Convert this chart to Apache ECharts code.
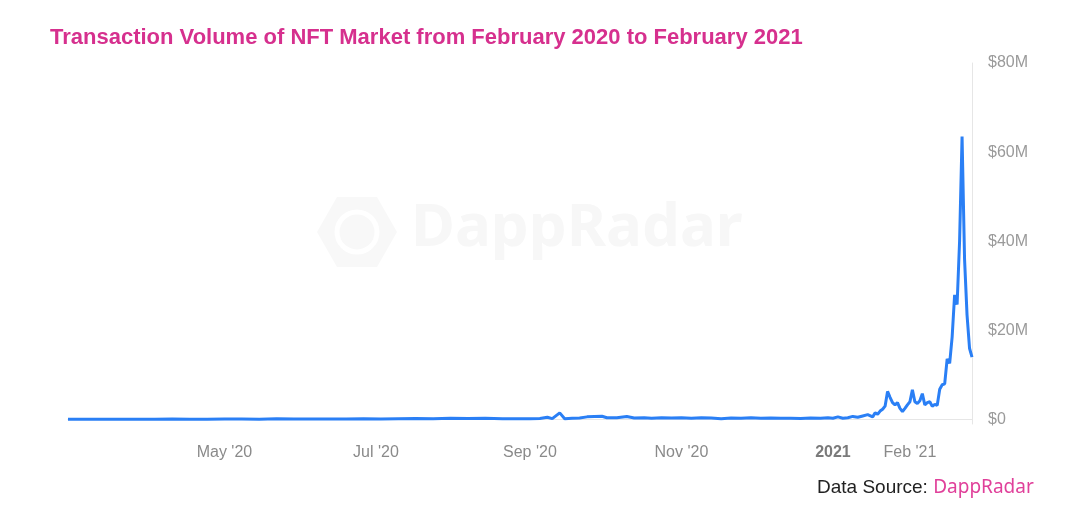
<!DOCTYPE html>
<html>
<head>
<meta charset="utf-8">
<script src="https://cdn.jsdelivr.net/npm/echarts@6/dist/echarts.min.js"></script>
<style>html,body{margin:0;padding:0;background:#fff;}#c{width:1080px;height:514px;}</style>
</head>
<body>
<div id="c"></div>
<script>
// Dates (YYYY-MM-DD) and daily transaction volume in $M
const dates = [
 '2020-02-28','2020-03-06','2020-03-13','2020-03-20','2020-03-27','2020-04-03','2020-04-10','2020-04-17','2020-04-24',
 '2020-05-01','2020-05-08','2020-05-15','2020-05-22','2020-05-29','2020-06-05','2020-06-12','2020-06-19','2020-06-26',
 '2020-07-03','2020-07-10','2020-07-17','2020-07-24','2020-07-31','2020-08-07','2020-08-14','2020-08-21','2020-08-27',
 '2020-09-01','2020-09-05','2020-09-08','2020-09-10','2020-09-13','2020-09-15','2020-09-18','2020-09-21','2020-09-24',
 '2020-09-27','2020-09-30','2020-10-02','2020-10-06','2020-10-10','2020-10-13','2020-10-17','2020-10-20','2020-10-24',
 '2020-10-28','2020-11-01','2020-11-05','2020-11-09','2020-11-13','2020-11-17','2020-11-21','2020-11-25','2020-11-29',
 '2020-12-03','2020-12-07','2020-12-11','2020-12-15','2020-12-19','2020-12-23','2020-12-27','2020-12-30',
 '2021-01-01','2021-01-03','2021-01-05','2021-01-07','2021-01-09','2021-01-11','2021-01-13','2021-01-15','2021-01-17',
 '2021-01-18','2021-01-19','2021-01-20','2021-01-21','2021-01-22','2021-01-23','2021-01-24','2021-01-25','2021-01-26',
 '2021-01-27','2021-01-28','2021-01-29','2021-01-30','2021-01-31','2021-02-01','2021-02-02','2021-02-03','2021-02-04',
 '2021-02-05','2021-02-06','2021-02-07','2021-02-08','2021-02-09','2021-02-10','2021-02-11','2021-02-12','2021-02-13',
 '2021-02-14','2021-02-15','2021-02-16','2021-02-17','2021-02-18','2021-02-19','2021-02-20','2021-02-21','2021-02-22',
 '2021-02-23','2021-02-24','2021-02-25','2021-02-26'
];
const volumes = [
 0.05,0.05,0.06,0.08,0.05,0.08,0.1,0.06,0.08,
 0.12,0.1,0.08,0.15,0.12,0.1,0.12,0.1,0.15,
 0.12,0.2,0.25,0.2,0.3,0.22,0.28,0.2,0.15,
 0.2,0.25,0.5,0.2,1.5,0.2,0.3,0.35,0.6,
 0.7,0.75,0.4,0.4,0.7,0.35,0.4,0.3,0.4,
 0.35,0.4,0.3,0.4,0.35,0.2,0.35,0.3,0.4,
 0.3,0.35,0.3,0.3,0.25,0.35,0.3,0.4,
 0.3,0.6,0.3,0.4,0.7,0.5,0.8,1.1,0.6,
 1.5,1.2,1.9,2.3,3.0,6.3,5.0,3.8,3.3,
 3.8,2.5,1.8,2.5,3.3,4.0,6.7,4.0,3.6,
 4.2,5.8,3.3,3.8,4.0,3.0,3.4,3.2,6.8,
 7.8,8.0,13.6,12.6,18.5,28,25.8,40,63.5,
 36,23.5,16,14
];
const xTickDates = ['2020-05-01','2020-07-01','2020-09-01','2020-11-01','2021-01-01','2021-02-01'];
const xTickLabels = ["May '20","Jul '20","Sep '20","Nov '20","2021","Feb '21"];
const yTickValues = [0,20,40,60,80];

function ts(s){const p=s.split('-');return Date.UTC(+p[0],+p[1]-1,+p[2]);}
const seriesData = dates.map((d,i)=>[ts(d),volumes[i]]);
const xTicks = xTickDates.map(ts);

const chart = echarts.init(document.getElementById('c'));
chart.setOption({
  animation:false,
  title:{text:'Transaction Volume of NFT Market from February 2020 to February 2021',left:45,top:22,
    textStyle:{color:'#d6308e',fontSize:22,fontWeight:'bold',fontFamily:'Liberation Sans'}},
  grid:{left:68,right:108,top:63,bottom:90},
  graphic:[
    {type:'polygon',z:-10,silent:true,shape:{points:[[337,197],[377,197],[397,232],[377,267],[337,267],[317,232]]},style:{fill:'#f8f8f8'}},
    {type:'circle',z:-9,silent:true,shape:{cx:357,cy:232,r:20},style:{fill:'none',stroke:'#ffffff',lineWidth:5}},
    {type:'text',z:-10,silent:true,left:411,top:199,style:{text:'DappRadar',fontSize:60,fontWeight:'bold',fill:'#f7f7f7',fontFamily:'Noto Sans'}},
    {type:'text',left:817,top:478,style:{rich:{a:{fontSize:19,fill:'#222',fontFamily:'Liberation Sans'},b:{fontSize:19,fill:'#e0409a',fontFamily:'Noto Sans'}},text:'{a|Data Source: }{b|DappRadar}'}}
  ],
  xAxis:{type:'value',min:ts('2020-02-28'),max:ts('2021-02-26'),
    axisLine:{show:true,lineStyle:{color:'#e6e6e6',width:1}},
    axisTick:{show:false},splitLine:{show:false},
    axisLabel:{customValues:xTicks,margin:21,color:'#8a8a8a',fontSize:16,fontFamily:'Liberation Sans',
      formatter:function(v){const i=xTicks.indexOf(v);const t=i>=0?xTickLabels[i]:'';return t==='2021'?'{b|'+t+'}':t;},
      rich:{b:{fontWeight:'bold',color:'#7a7a7a',fontSize:16,fontFamily:'Liberation Sans'}}}
  },
  yAxis:{type:'value',position:'right',min:-1,max:80,
    axisLine:{show:true,lineStyle:{color:'#e6e6e6',width:1}},
    axisTick:{show:false},splitLine:{show:false},
    axisLabel:{customValues:yTickValues,margin:16,color:'#9a9a9a',fontSize:16,fontFamily:'Liberation Sans',
      formatter:function(v){return v===0?'$0':'$'+v+'M';}}
  },
  series:[{type:'line',data:seriesData,showSymbol:false,lineStyle:{color:'#2a7ff5',width:3},itemStyle:{color:'#2a7ff5'}}]
});
</script>
</body>
</html>
